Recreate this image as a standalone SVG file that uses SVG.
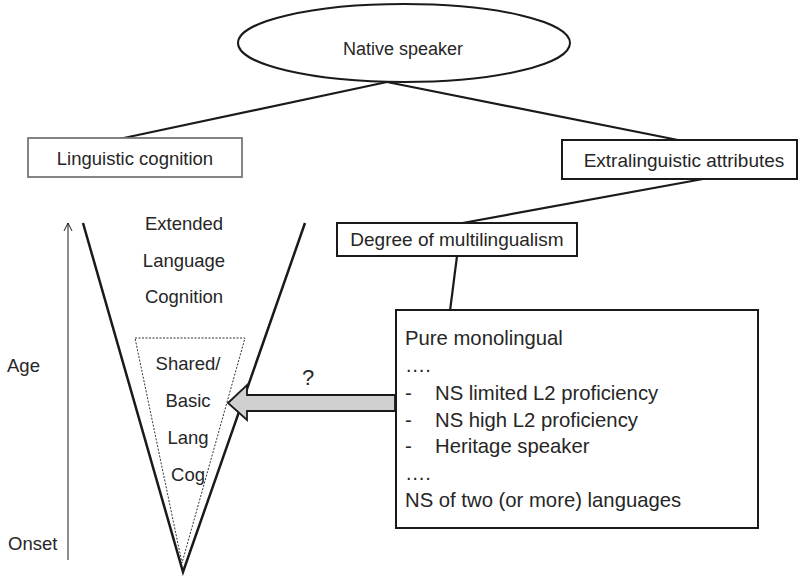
<svg xmlns="http://www.w3.org/2000/svg" width="802" height="576" viewBox="0 0 802 576">
<style>
text{font-family:"Liberation Sans",Arial,sans-serif;font-size:18.5px;fill:#262626}
.c{text-anchor:middle}
.l{font-size:20.3px}
.box{fill:#fff;stroke:#1a1a1a;stroke-width:2}
.ln{stroke:#1a1a1a;stroke-width:2.2;fill:none}
</style>
<rect width="802" height="576" fill="#fff"/>
<g id="connectors">
<line class="ln" x1="387" y1="82" x2="119" y2="139"/>
<line class="ln" x1="387" y1="82" x2="683" y2="141"/>
<line class="ln" x1="703" y1="179" x2="457" y2="224"/>
<line class="ln" x1="457" y1="256" x2="450" y2="311"/>
</g>
<g id="native-speaker">
<ellipse cx="404" cy="43" rx="166" ry="39" fill="#fff" stroke="#1a1a1a" stroke-width="2"/>
<text class="c" x="403" y="55" style="font-size:18px">Native speaker</text>
</g>
<g id="linguistic-cognition">
<rect x="28" y="138" width="214" height="39" fill="#fff" stroke="#777" stroke-width="1.8"/>
<text class="c" x="135" y="165">Linguistic cognition</text>
</g>
<g id="extralinguistic">
<rect class="box" x="562" y="140" width="235" height="39"/>
<text class="c" x="684" y="167" style="font-size:19px">Extralinguistic attributes</text>
</g>
<g id="degree">
<rect class="box" x="337" y="223" width="240" height="33"/>
<text class="c" x="457" y="246" style="font-size:19px">Degree of multilingualism</text>
</g>
<g id="multilingual-list">
<rect class="box" x="396" y="310" width="362" height="218"/>
<text class="l" x="405" y="345">Pure monolingual</text>
<text class="l" x="405" y="372">….</text>
<text class="l" x="405" y="400">-</text><text class="l" x="435" y="400">NS limited L2 proficiency</text>
<text class="l" x="405" y="427">-</text><text class="l" x="435" y="427">NS high L2 proficiency</text>
<text class="l" x="405" y="453">-</text><text class="l" x="435" y="453">Heritage speaker</text>
<text class="l" x="405" y="480">….</text>
<text class="l" x="405" y="507">NS of two (or more) languages</text>
</g>
<g id="age-axis">
<line x1="68" y1="223" x2="68" y2="560" stroke="#1a1a1a" stroke-width="1"/>
<polyline points="64,231 68,223 72,231" fill="none" stroke="#1a1a1a" stroke-width="1"/>
<text x="7" y="372">Age</text>
<text x="8" y="550">Onset</text>
</g>
<g id="cognition-cone">
<polyline points="83,223 183,572 305,223" fill="none" stroke="#1a1a1a" stroke-width="2.5" stroke-linejoin="miter"/>
<text class="c" x="184" y="230">Extended</text>
<text class="c" x="184" y="267">Language</text>
<text class="c" x="184" y="303">Cognition</text>
</g>
<g id="basic-cognition">
<polygon points="135,338 245,338 182,563" fill="none" stroke="#333" stroke-width="1" stroke-dasharray="2 1.5"/>
<text class="c" x="188" y="370">Shared/</text>
<text class="c" x="188" y="407">Basic</text>
<text class="c" x="188" y="444">Lang</text>
<text class="c" x="188" y="481">Cog</text>
</g>
<g id="influence-arrow">
<polygon points="228,403 247,385 247,395 395,395 395,411 247,411 247,420" fill="#d0d0d0" stroke="#1a1a1a" stroke-width="1.8" stroke-linejoin="miter"/>
<text x="302" y="385" style="font-size:22px">?</text>
</g>
</svg>
